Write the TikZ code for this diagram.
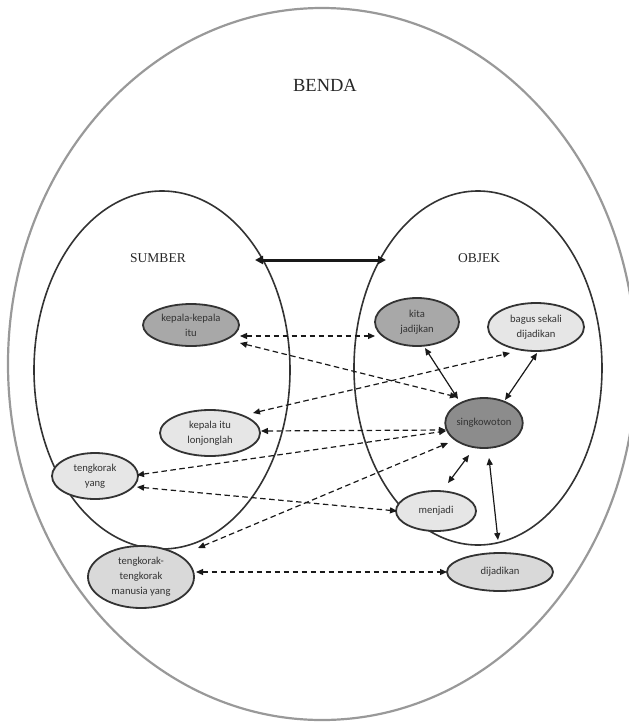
\documentclass[tikz,border=0pt]{standalone}
\usepackage{fontspec}
\setmainfont{Liberation Serif}
\newfontfamily\nodefont{Carlito}
\usetikzlibrary{shapes.geometric,arrows.meta,calc}
\definecolor{darkfill}{HTML}{8C8C8C}
\definecolor{midfill}{HTML}{A8A8A8}
\definecolor{lightfill}{HTML}{E6E6E6}
\definecolor{lightfillb}{HTML}{D9D9D9}
\definecolor{edgegray}{HTML}{333333}
\definecolor{outergray}{HTML}{999999}
\begin{document}
\begin{tikzpicture}[x=1pt,y=-1pt,
  concept/.style={ellipse,draw=edgegray,line width=1.8pt,inner sep=0pt,align=center,
    text=edgegray,font=\nodefont\fontsize{10.6}{15}\selectfont},
  dashlink/.style={draw=black!90,line width=1.2pt,dash pattern=on 5.5pt off 3.5pt,
    {Triangle[length=7pt,width=6pt]}-{Triangle[length=7pt,width=6pt]}},
  solidlink/.style={draw=black!90,line width=1.2pt,
    {Triangle[length=7pt,width=6pt]}-{Triangle[length=7pt,width=6pt]}},
  bigtitle/.style={font=\fontsize{18.5}{20}\selectfont,text=black!85},
  settitle/.style={font=\fontsize{13.5}{15}\selectfont,text=black!85}]
\useasboundingbox (0,0) rectangle (629,723);
% outer and set ellipses
\draw[outergray,line width=2.2pt] (322,364) ellipse [x radius=314pt,y radius=356pt];
\draw[edgegray,line width=1.6pt] (162,370) ellipse [x radius=128pt,y radius=179pt];
\draw[edgegray,line width=1.6pt] (478,368) ellipse [x radius=124pt,y radius=177pt];
% titles
\node[bigtitle] (benda) at (325,85) {BENDA};
\node[settitle] (sumber) at (158,258) {SUMBER};
\node[settitle] (objek) at (479,258) {OBJEK};
\coordinate (sumberarr) at (255,260);
\coordinate (objekarr) at (386,260);
\draw[black!90,line width=3pt,{Triangle[length=8pt,width=8pt]}-{Triangle[length=8pt,width=8pt]}] (sumberarr) -- (objekarr);
% concept nodes
\node[concept,fill=midfill,minimum width=96pt,minimum height=42pt] (kk) at (191,325) {kepala-kepala\\itu};
\node[concept,fill=midfill,minimum width=84pt,minimum height=48pt] (kita) at (417,322) {kita\\jadijkan};
\node[concept,fill=lightfill,minimum width=96pt,minimum height=48pt] (bagus) at (536,327) {bagus sekali\\dijadikan};
\node[concept,fill=darkfill,minimum width=74pt,minimum height=50pt] (sing) at (484,423) {singkowoton};
\node[concept,fill=lightfill,minimum width=100pt,minimum height=46pt] (kl) at (210,433) {kepala itu\\lonjonglah};
\node[concept,fill=lightfill,minimum width=86pt,minimum height=46pt] (ty) at (95,476) {tengkorak\\yang};
\node[concept,fill=lightfillb,minimum width=106pt,minimum height=62pt] (tt) at (141,577) {tengkorak-\\tengkorak\\manusia yang};
\node[concept,fill=lightfill,minimum width=80pt,minimum height=40pt] (menjadi) at (436,511) {menjadi};
\node[concept,fill=lightfillb,minimum width=106pt,minimum height=38pt] (dij) at (500,572) {dijadikan};
% dashed connectors
\draw[dashlink] ($(kk)+(49,11)$) -- ($(kita)+(-42,14)$);
\draw[dashlink] ($(kk)+(49,18)$) -- ($(sing)+(-27,-26)$);
\draw[dashlink] ($(kl)+(43,-20)$) -- ($(bagus)+(-26,26)$);
\draw[dashlink] ($(kl)+(51,-2)$) -- ($(sing)+(-38,7)$);
\draw[dashlink] ($(ty)+(42,-1)$) -- ($(sing)+(-38,8)$);
\draw[dashlink] ($(tt)+(57,-29)$) -- ($(sing)+(-36,20)$);
\draw[dashlink] ($(ty)+(42,11)$) -- ($(menjadi)+(-39,0)$);
\draw[dashlink] ($(tt)+(55,-5)$) -- ($(dij)+(-53,0)$);
% solid connectors
\draw[solidlink] ($(kita)+(8,26)$) -- ($(sing)+(-26,-24)$);
\draw[solidlink] ($(bagus)+(1,26)$) -- ($(sing)+(21,-23)$);
\draw[solidlink] ($(sing)+(-15,32)$) -- ($(menjadi)+(12,-28)$);
\draw[solidlink] ($(sing)+(5,35)$) -- ($(dij)+(-2,-32)$);
\end{tikzpicture}
\end{document}
